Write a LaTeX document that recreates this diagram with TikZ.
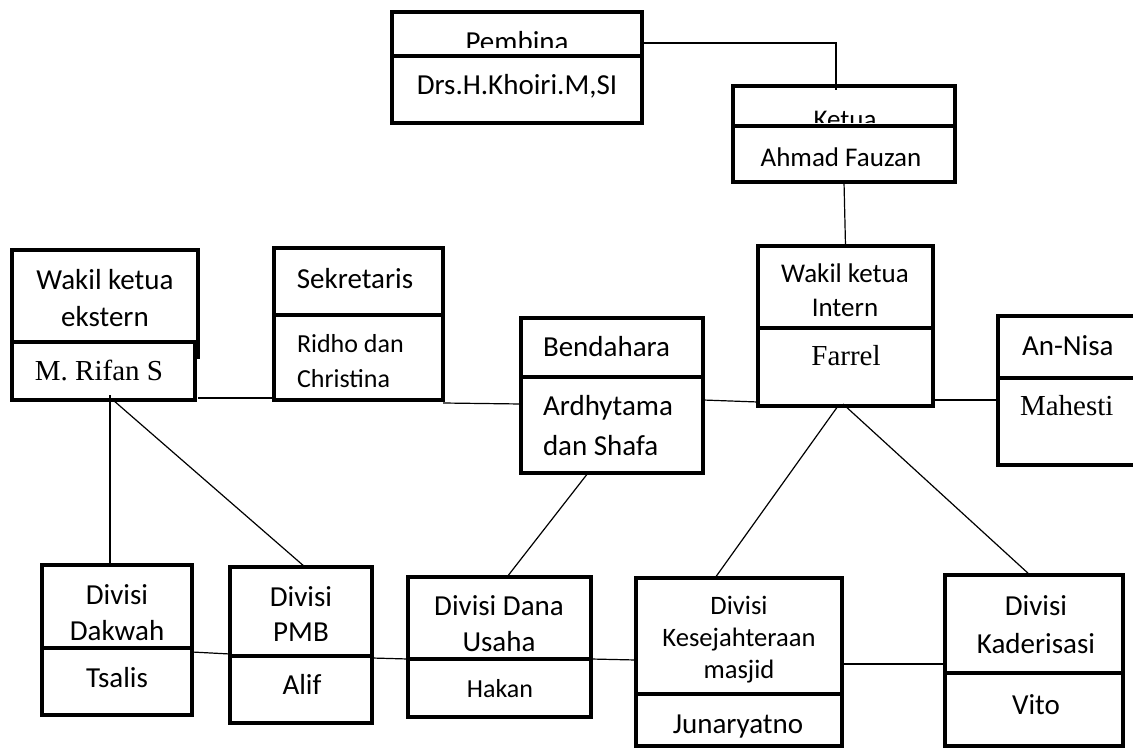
\documentclass[tikz,border=0pt]{standalone}
\usepackage{fontspec}
\setmainfont{Carlito}
\newfontfamily\tms{Liberation Serif}
\usetikzlibrary{calc}
\tikzset{
  bx/.style={draw, line width=2pt, fill=white, inner sep=0pt, outer sep=0pt, rectangle},
  ln/.style={line width=0.6pt},
  tx/.style={inner sep=0pt, outer sep=0pt, anchor=base, font=\fontsize{14.5}{17}\selectfont},
  txl/.style={tx, anchor=base west},
  sm/.style={font=\fontsize{13.5}{16}\selectfont},
  xs/.style={font=\fontsize{13}{15}\selectfont},
  ks/.style={font=\fontsize{13.3}{15}\selectfont},
  tm/.style={font=\tms\fontsize{14.5}{17}\selectfont},
}
\newcommand\mkbox[5]{\node[bx, minimum width={(#4-#2)*0.5pt}, minimum height={(#5-#3)*0.5pt}] (#1) at ({(#2+#4)/2},{(#3+#5)/2}) {};}
\begin{document}
\begin{tikzpicture}[x=0.5pt,y=-0.5pt]
\useasboundingbox (0,0) rectangle (1133,748);
% connectors (drawn first; boxes are white-filled)
% Pembina / Ketua
\mkbox{pembinaT}{392}{12}{642}{56}
\begin{scope}
\clip (392,0) rectangle (642,48);
\node[tx] (tPembina) at (517,52) {Pembina};
\end{scope}
\mkbox{pembinaB}{392}{56}{642}{123}
\node[tx] (tKhoiri) at (517,95) {Drs.H.Khoiri.M,SI};

\mkbox{ketuaT}{733}{86}{955}{126}
\begin{scope}
\clip (733,0) rectangle (955,123);
\node[tx,sm] (tKetua) at (845,129) {Ketua};
\end{scope}
\mkbox{ketuaB}{733}{126}{955}{182}
\node[tx,sm] (tFauzan) at (841,167) {Ahmad Fauzan};

% Wakil ketua ekstern
\mkbox{wkeT}{12}{250}{198}{357}
\mkbox{wkeB}{12}{342}{195}{400}
\node[tx] (tWke1) at (105,290) {Wakil ketua};
\node[tx] (tWke2) at (105,327) {ekstern};
\node[tx,tm] (tRifan) at (99,380) {M. Rifan S};

% Sekretaris
\mkbox{sekT}{274}{248}{443}{315}
\mkbox{sekB}{274}{315}{443}{400}
\node[tx] (tSek) at (355,289) {Sekretaris};
\node[txl,xs] (tRidho) at (297,352) {Ridho dan};
\node[txl,xs] (tChristina) at (297,387) {Christina};

% Bendahara
\mkbox{bendT}{521}{318}{703}{377}
\mkbox{bendB}{521}{377}{703}{473}
\node[txl] (tBend) at (543,357) {Bendahara};
\node[txl] (tArd) at (543,415) {Ardhytama};
\node[txl] (tShafa) at (543,455) {dan Shafa};

% Wakil ketua intern
\mkbox{wkiT}{758}{246}{933}{328}
\mkbox{wkiB}{758}{328}{933}{406}
\node[tx,sm] (tWki1) at (845,283) {Wakil ketua};
\node[tx,sm] (tWki2) at (845,316) {Intern};
\node[tx,tm] (tFarrel) at (846,365) {Farrel};

% An-Nisa
\mkbox{anT}{998}{316}{1140}{378}
\mkbox{anB}{998}{378}{1140}{465}
\node[txl] (tAn) at (1022,355) {An-Nisa};
\node[txl,tm] (tMahesti) at (1020,415) {Mahesti};

% Divisi Dakwah
\mkbox{dakT}{42}{565}{192}{648}
\mkbox{dakB}{42}{648}{192}{715}
\node[tx] (tDak1) at (117,604) {Divisi};
\node[tx] (tDak2) at (117,640) {Dakwah};
\node[tx] (tTsalis) at (117,687) {Tsalis};

% Divisi PMB
\mkbox{pmbT}{230}{567}{372}{656}
\mkbox{pmbB}{230}{656}{372}{723}
\node[tx] (tPmb1) at (301,606) {Divisi};
\node[tx] (tPmb2) at (301,641) {PMB};
\node[tx] (tAlif) at (302,694) {Alif};

% Divisi Dana Usaha
\mkbox{danaT}{408}{577}{591}{659}
\mkbox{danaB}{408}{659}{591}{717}
\node[tx] (tDana1) at (499,615) {Divisi Dana};
\node[tx] (tDana2) at (499,651) {Usaha};
\node[tx,xs] (tHakan) at (500,697) {Hakan};

% Divisi Kesejahteraan masjid
\mkbox{kesT}{636}{578}{842}{694}
\mkbox{kesB}{636}{694}{842}{746}
\node[tx,ks] (tKes1) at (739,614) {Divisi};
\node[tx,ks] (tKes2) at (739,646) {Kesejahteraan};
\node[tx,ks] (tKes3) at (739,678) {masjid};
\node[tx] (tJun) at (738,733) {Junaryatno};

% Divisi Kaderisasi
\mkbox{kadT}{945}{575}{1123}{673}
\mkbox{kadB}{945}{673}{1123}{746}
\node[tx] (tKad1) at (1036,615) {Divisi};
\node[tx] (tKad2) at (1036,653) {Kaderisasi};
\node[tx] (tVito) at (1036,714) {Vito};

% connectors
\draw[ln] ($(pembinaT.east)+(0,9)$) -| ($(ketuaT.north)+(-8,4)$);
\draw[ln] (ketuaB.south) -- (wkiT.north);
\draw[ln] ($(wkeB.east)+(3,27)$) -- ($(sekB.west)+(0,40.5)$);
\draw[ln] ($(sekB.east)+(0,45.5)$) -- ($(bendB.west)+(0,-21)$);
\draw[ln] ($(bendB.east)+(0,-25)$) -- ($(wkiB.west)+(0,35)$);
\draw[ln] ($(wkiB.east)+(0,33)$) -- ($(anB.west)+(0,-21.5)$);
\draw[ln] ($(wkeB.south)+(6.5,-5)$) -- ($(dakT.north)+(-7,0)$);
\draw[ln] ($(wkeB.south)+(9.5,0)$) -- ($(pmbT.north)+(4,0)$);
\draw[ln] ($(dakB.east)+(0,-29.5)$) -- ($(pmbB.west)+(0,-35.5)$);
\draw[ln] ($(pmbB.east)+(0,-31.5)$) -- ($(danaB.west)+(0,-29)$);
\draw[ln] ($(danaB.east)+(0,-29)$) -- ($(kesT.west)+(0,24)$);
\draw[ln] ($(kesT.east)+(0,28)$) -- ($(kadT.west)+(0,40)$);
\draw[ln] ($(bendB.south)+(-24,0)$) -- ($(danaT.north)+(7.5,0)$);
\draw[ln] ($(wkiB.south)+(-7.5,0)$) -- ($(kesT.north)+(-24,0)$);
\draw[ln] ($(wkiB.south)+(-2.5,-2)$) -- ($(kadT.north)+(-4,0)$);
\end{tikzpicture}
\end{document}
